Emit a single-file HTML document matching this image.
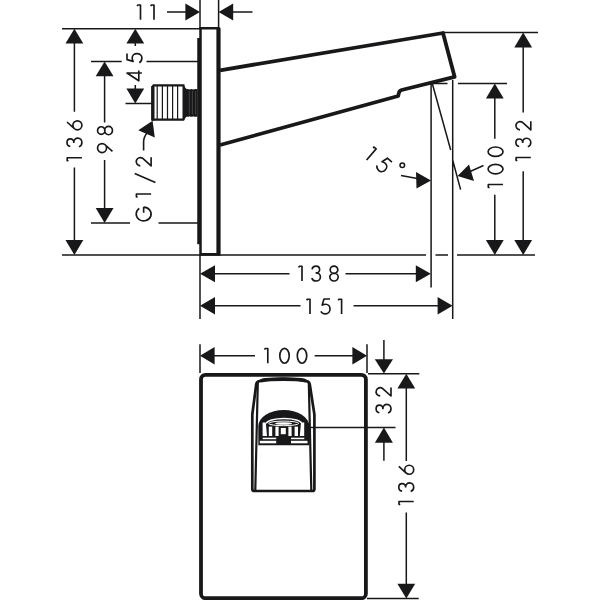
<!DOCTYPE html>
<html><head><meta charset="utf-8"><style>
html,body{margin:0;padding:0;background:#fff;width:600px;height:600px;overflow:hidden;font-family:"Liberation Sans",sans-serif}
svg{display:block}
</style></head><body>
<svg width="600" height="600" viewBox="0 0 600 600">
<g fill="none" stroke="#18181a" stroke-width="1.5">
<path d="M200 0V28 M218.6 0V28 M167 12H186 M233 12H252.5"/>
<path d="M62 28.7H200"/>
<path d="M74.4 43V111.7 M74.4 167.5V241"/>
<path d="M62 254.9H426 M435.5 254.9H448 M457 254.9H535"/>
<path d="M91 61.5H121.7 M146.5 61.5H198 M104.6 76V122.5 M104.6 160V209 M91 222.9H130 M158.5 222.9H198"/>
<path d="M135.3 43V46 M135.3 85V89.5 M125.5 103.5H152"/>
<path d="M431.1 83V287.5 M452.7 80V319 M432 82.5L450.7 150 M452.8 160.5L460.6 189.6 M401 175.5L420 179 M469 172L483.5 165.5"/>
<path d="M432.5 83.6H447.5 M458 83.6H507"/>
<path d="M494.8 98V138.8 M494.8 194.8V241"/>
<path d="M442 32.6H538 M523.2 47V112.5 M523.2 171.3V241"/>
<path d="M200 254.9V319 M214 273.7H289.5 M345.5 273.7H417 M214 305.7H300.5 M353.6 305.7H438"/>
<path d="M200 344.2V373 M367 344.2V373 M214 355.8H255 M314.6 355.8H354"/>
<path d="M383.9 340V360 M368 373.75H419.3 M292 427.4H395.5 M383.9 442V460.7"/>
<path d="M406.3 388V461 M406.3 512.5V585 M367 598.6H418.7"/>
<path d="M143.6 150.6V142.5Q143.6 136.5 147.5 132.5" stroke-width="1.6"/>
</g>
<g fill="#18181a">
<path d="M200 12L185.40 3.40V20.60Z"/>
<path d="M218.6 12L233.20 3.40V20.60Z"/>
<path d="M74.4 28.8L65.50 43.60H83.30Z"/>
<path d="M74.4 254.9L65.50 240.10H83.30Z"/>
<path d="M104.6 61.5L95.70 76.30H113.50Z"/>
<path d="M104.6 222.9L95.70 208.10H113.50Z"/>
<path d="M135.3 28.8L126.40 43.60H144.20Z"/>
<path d="M135.3 103.4L126.40 88.60H144.20Z"/>
<path d="M152.6 120.8L138.3 130.2L154.8 137.6Z"/>
<path d="M431 180.5L416 172L416.5 188.5Z M457.5 176L469 164.5L474 181Z"/>
<path d="M494.8 83.6L485.90 98.40H503.70Z"/>
<path d="M494.8 254.9L485.90 240.10H503.70Z"/>
<path d="M523.2 32.6L514.30 47.40H532.10Z"/>
<path d="M523.2 254.9L514.30 240.10H532.10Z"/>
<path d="M200 273.7L215.00 265.20V282.20Z"/>
<path d="M430.8 273.7L415.80 265.20V282.20Z"/>
<path d="M200 305.7L215.00 297.00V314.40Z"/>
<path d="M452.6 305.7L437.60 297.00V314.40Z"/>
<path d="M200 355.8L214.60 347.00V364.60Z"/>
<path d="M367 355.8L352.40 347.00V364.60Z"/>
<path d="M383.9 373.6L374.80 359.20H393.00Z"/>
<path d="M383.9 427.4L374.90 442.80H392.90Z"/>
<path d="M406.3 373.75L397.40 388.55H415.20Z"/>
<path d="M406.3 598.6L397.40 583.80H415.20Z"/>
</g>
<!-- side plate -->
<g fill="#18181a">
<path d="M199.25 27H218.8Q220.6 27 220.6 28.8V255.7H199.25Z M201.75 29.5V252.9H216.4V29.5Z" fill-rule="evenodd"/>
<rect x="197.25" y="38" width="3" height="206.2"/>
</g>
<!-- spout -->
<path d="M220 70.3L443 33L454.6 76.8L401.6 90Q399.2 90.7 398.7 93.5L398.2 96L220 145" fill="none" stroke="#18181a" stroke-width="3.8" stroke-linejoin="round"/>
<!-- connector -->
<g fill="none" stroke="#18181a" stroke-linejoin="round">
<path d="M153.5 85.4H183.6V119.6H152.4V87.3Z" stroke-width="2.2"/>
</g>
<g fill="#18181a">
<rect x="151.3" y="86" width="3.2" height="34.7"/>
<path d="M186.5 89.2Q188 88.6 189.6 89.6Q191.4 88.6 193.2 89.6Q195 88.6 197.6 89.2V116.4Q195 117.2 193.2 116.2Q191.4 117.2 189.6 116.2Q188 117.2 186.5 116.4Z"/>
<path d="M183.2 85.2L187.6 90.2V115.6L183.2 120.6Z"/>
</g>
<g stroke="#18181a" stroke-width="1.2">
<path d="M157.2 86V119 M162.4 86V119 M167.5 86V119 M172.6 86V119 M177.6 86V119"/>
</g>
<g stroke="#555" stroke-width="0.7"><path d="M189.3 91V114.5 M192.4 91V114.5 M195.6 91V114.5"/></g>
<!-- front plate -->
<rect x="201" y="374.8" width="164.9" height="223.4" rx="4.5" fill="none" stroke="#18181a" stroke-width="3.8"/>
<!-- front spout -->
<path d="M258.3 445.3V426A25.5 16 0 0 1 309.3 426V445.3Z" fill="#18181a"/>
<g fill="#fff">
<path d="M262.6 422.5H265.8L267 436H262.6Z M304.2 422.5H301L299.8 436H304.2Z"/>
<rect x="268.8" y="426.6" width="3.4" height="9.4"/>
<rect x="275.4" y="426.6" width="3.2" height="9.4"/>
<rect x="280.8" y="428" width="5" height="6.2"/>
<rect x="288.4" y="426.6" width="3.2" height="9.4"/>
<rect x="294.6" y="426.6" width="3.4" height="9.4"/>
<rect x="262.7" y="437.7" width="13.5" height="1.5"/>
<rect x="291" y="437.7" width="13.3" height="1.5"/>
<rect x="259.8" y="440.8" width="16.4" height="2.5"/>
<rect x="291" y="440.8" width="16.5" height="2.5"/>
<ellipse cx="283.6" cy="423.5" rx="8.5" ry="1.3"/>
</g>
<path d="M266.4 423.6A17.6 5.1 0 0 1 301.6 423.6" fill="none" stroke="#fff" stroke-width="1.5"/>
<ellipse cx="283.7" cy="423.4" rx="15" ry="2.3" fill="none" stroke="#fff" stroke-width="1"/>
<g fill="none" stroke="#18181a" stroke-linejoin="round">
<path d="M252.3 414.5L256.2 384.5Q256.6 381.6 259.5 381.1 C268 378.2 298 378.2 306.5 381.1 Q309.3 381.6 309.8 384.5L314.4 414.5V489Q314.4 491 312.4 491H254.3Q252.3 491 252.3 489Z" stroke-width="2.7"/>
<path d="M257.8 383L255.3 490 M308.8 383L311.3 490" stroke-width="2.2"/>
<path d="M262 380.6C270 378.6 296.5 378.6 304.6 380.6" stroke-width="3.6" stroke-linecap="round"/>
</g>
<!-- degree -->
<circle cx="402.3" cy="165.2" r="2.3" fill="none" stroke="#18181a" stroke-width="1.5"/>
<!-- text -->
<g fill="none" stroke="#18181a" stroke-width="1.65" stroke-linejoin="round">
<path transform="translate(136.3,4.0)" d="M0.9,2.2L1.5,1.0H4.2V15.7"/>
<path transform="translate(149.8,4.0)" d="M0.9,2.2L1.5,1.0H4.2V15.7"/>
<path transform="translate(297.8,265.3)" d="M0.9,2.2L1.5,1.0H4.2V15.7"/>
<path transform="translate(311,265.3)" d="M1.1,4.1C1.3,2.1 3,0.8 5,0.8C7.1,0.8 8.6,2.2 8.6,4.2C8.6,6.2 7.2,7.6 5,7.6H4.6M5,7.6C7.6,7.6 9.4,9.4 9.4,11.6C9.4,14 7.5,15.7 5,15.7C3,15.7 1.3,14.5 0.8,12.7"/>
<path transform="translate(329,265.3)" d="M1.20,4.50A3.8,3.7 0 1 0 8.80,4.50A3.8,3.7 0 1 0 1.20,4.50ZM0.80,11.80A4.2,3.9 0 1 0 9.20,11.80A4.2,3.9 0 1 0 0.80,11.80Z"/>
<path transform="translate(305.8,298.2)" d="M0.9,2.2L1.5,1.0H4.2V15.7"/>
<path transform="translate(320,298.2)" d="M10,0.8H4L2.2,6.9C3.3,6.3 4.5,6 5.7,6C8.2,6 10,8 10,10.8C10,13.6 8.1,15.7 5.5,15.7C3.4,15.7 1.7,14.6 0.8,13.1"/>
<path transform="translate(337.4,298.2)" d="M0.9,2.2L1.5,1.0H4.2V15.7"/>
<path transform="translate(263.6,347.5)" d="M0.9,2.2L1.5,1.0H4.2V15.7"/>
<path transform="translate(279,347.5)" d="M0.80,8.25A4.7,7.45 0 1 0 10.20,8.25A4.7,7.45 0 1 0 0.80,8.25Z"/>
<path transform="translate(296.5,347.5)" d="M0.80,8.25A4.7,7.45 0 1 0 10.20,8.25A4.7,7.45 0 1 0 0.80,8.25Z"/>
<path transform="translate(66.2,161.95) rotate(-90)" d="M0.9,2.2L1.5,1.0H4.2V15.7"/>
<path transform="translate(66.2,147.5) rotate(-90)" d="M1.1,4.1C1.3,2.1 3,0.8 5,0.8C7.1,0.8 8.6,2.2 8.6,4.2C8.6,6.2 7.2,7.6 5,7.6H4.6M5,7.6C7.6,7.6 9.4,9.4 9.4,11.6C9.4,14 7.5,15.7 5,15.7C3,15.7 1.3,14.5 0.8,12.7"/>
<path transform="translate(66.2,130.6) rotate(-90)" d="M8.6,0.8L1.95,8.19M0.80,11.20A4.5,4.5 0 1 0 9.80,11.20A4.5,4.5 0 1 0 0.80,11.20Z"/>
<path transform="translate(96.75,153.4) rotate(-90)" d="M2.0,15.7L8.65,8.31M0.80,5.30A4.5,4.5 0 1 0 9.80,5.30A4.5,4.5 0 1 0 0.80,5.30Z"/>
<path transform="translate(96.75,135.5) rotate(-90)" d="M1.20,4.50A3.8,3.7 0 1 0 8.80,4.50A3.8,3.7 0 1 0 1.20,4.50ZM0.80,11.80A4.2,3.9 0 1 0 9.20,11.80A4.2,3.9 0 1 0 0.80,11.80Z"/>
<path transform="translate(126.2,81.6) rotate(-90)" d="M8.6,15.7V0.8L0.8,12.6H11"/>
<path transform="translate(126.2,63.6) rotate(-90)" d="M10,0.8H4L2.2,6.9C3.3,6.3 4.5,6 5.7,6C8.2,6 10,8 10,10.8C10,13.6 8.1,15.7 5.5,15.7C3.4,15.7 1.7,14.6 0.8,13.1"/>
<path transform="translate(135.4,221.7) rotate(-90)" d="M14.60,8.25A6.9,7.45 0 1 1 13.28,3.87M8.9,8.25H14.60"/>
<path transform="translate(135.4,198.2) rotate(-90)" d="M0.9,2.2L1.5,1.0H4.2V15.7"/>
<path transform="translate(135.4,183) rotate(-90)" d="M0.6,20L9.4,-0.7"/>
<path transform="translate(135.4,166.7) rotate(-90)" d="M0.90,4.90A4.1,4.1 0 1 1 8.23,7.42L0.8,15.7H9.4"/>
<path transform="translate(487.3,188.7) rotate(-90)" d="M0.9,2.2L1.5,1.0H4.2V15.7"/>
<path transform="translate(487.3,174.6) rotate(-90)" d="M0.80,8.25A4.7,7.45 0 1 0 10.20,8.25A4.7,7.45 0 1 0 0.80,8.25Z"/>
<path transform="translate(487.3,157.2) rotate(-90)" d="M0.80,8.25A4.7,7.45 0 1 0 10.20,8.25A4.7,7.45 0 1 0 0.80,8.25Z"/>
<path transform="translate(515.1,161.7) rotate(-90)" d="M0.9,2.2L1.5,1.0H4.2V15.7"/>
<path transform="translate(515.1,147.6) rotate(-90)" d="M1.1,4.1C1.3,2.1 3,0.8 5,0.8C7.1,0.8 8.6,2.2 8.6,4.2C8.6,6.2 7.2,7.6 5,7.6H4.6M5,7.6C7.6,7.6 9.4,9.4 9.4,11.6C9.4,14 7.5,15.7 5,15.7C3,15.7 1.3,14.5 0.8,12.7"/>
<path transform="translate(515.1,130.7) rotate(-90)" d="M0.90,4.90A4.1,4.1 0 1 1 8.23,7.42L0.8,15.7H9.4"/>
<path transform="translate(375.3,413.8) rotate(-90)" d="M1.1,4.1C1.3,2.1 3,0.8 5,0.8C7.1,0.8 8.6,2.2 8.6,4.2C8.6,6.2 7.2,7.6 5,7.6H4.6M5,7.6C7.6,7.6 9.4,9.4 9.4,11.6C9.4,14 7.5,15.7 5,15.7C3,15.7 1.3,14.5 0.8,12.7"/>
<path transform="translate(375.3,396.8) rotate(-90)" d="M0.90,4.90A4.1,4.1 0 1 1 8.23,7.42L0.8,15.7H9.4"/>
<path transform="translate(398,505.7) rotate(-90)" d="M0.9,2.2L1.5,1.0H4.2V15.7"/>
<path transform="translate(398,492.2) rotate(-90)" d="M1.1,4.1C1.3,2.1 3,0.8 5,0.8C7.1,0.8 8.6,2.2 8.6,4.2C8.6,6.2 7.2,7.6 5,7.6H4.6M5,7.6C7.6,7.6 9.4,9.4 9.4,11.6C9.4,14 7.5,15.7 5,15.7C3,15.7 1.3,14.5 0.8,12.7"/>
<path transform="translate(398,475) rotate(-90)" d="M8.6,0.8L1.95,8.19M0.80,11.20A4.5,4.5 0 1 0 9.80,11.20A4.5,4.5 0 1 0 0.80,11.20Z"/>
<path transform="translate(373.6,145.4) rotate(40.5)" d="M0.9,2.2L1.5,1.0H4.2V15.7"/>
<path transform="translate(373.6,145.4) rotate(40.5) translate(14.8,0)" d="M10,0.8H4L2.2,6.9C3.3,6.3 4.5,6 5.7,6C8.2,6 10,8 10,10.8C10,13.6 8.1,15.7 5.5,15.7C3.4,15.7 1.7,14.6 0.8,13.1"/>
</g>
</svg>
</body></html>
